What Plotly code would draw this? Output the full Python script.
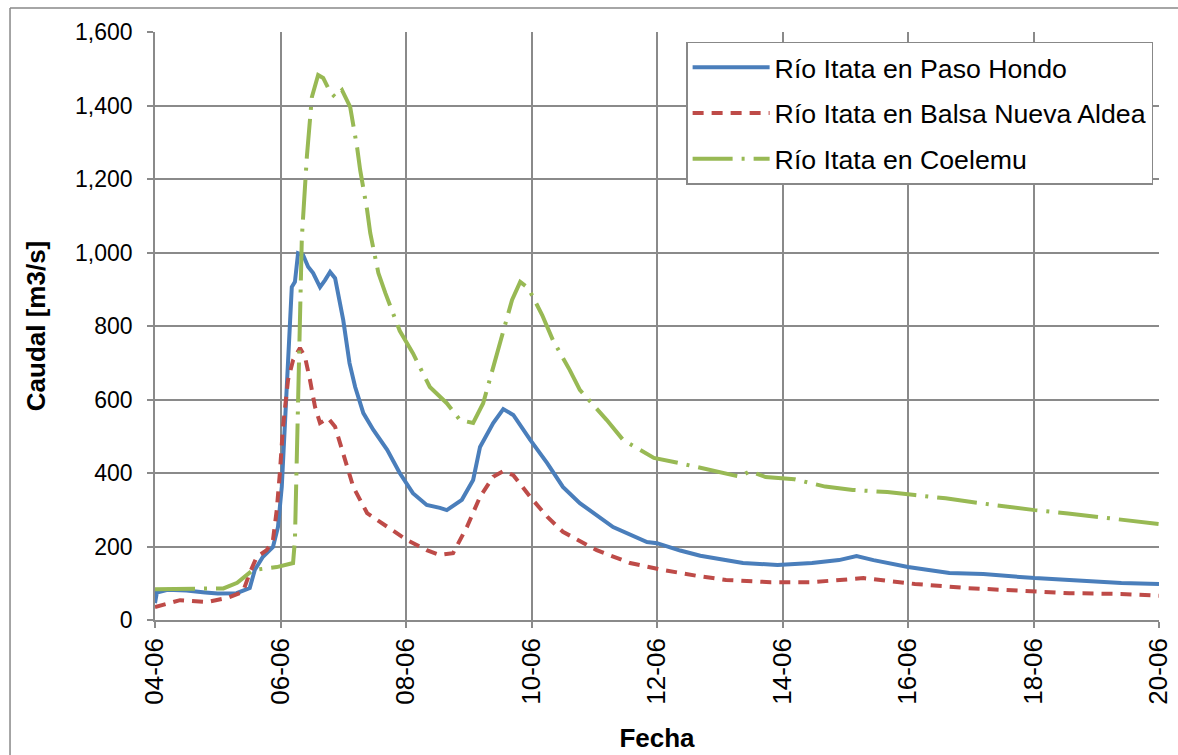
import pandas as pd
import plotly.graph_objects as go

# ---- data (June day numbers, fractional = time of day) ----
paso_hondo_day = [4.00, 4.03, 4.2, 4.5, 4.8, 5.0, 5.3, 5.51, 5.59, 5.72, 5.88, 5.96, 6.02, 6.07, 6.12,
                  6.18, 6.23, 6.28, 6.36, 6.44, 6.52, 6.63, 6.71, 6.79, 6.87, 6.92, 7.0, 7.1, 7.19,
                  7.32, 7.48, 7.7, 7.9, 8.11, 8.33, 8.54, 8.65, 8.89, 9.07, 9.18, 9.39, 9.55, 9.71,
                  9.98, 10.25, 10.5, 10.77, 11.3, 11.84, 12.0, 12.37, 12.69, 13.37, 13.92, 14.47,
                  14.9, 15.18, 15.45, 16.0, 16.66, 17.2, 18.02, 18.85, 19.4, 20.0]
paso_hondo_q = [46, 75, 82, 80, 75, 72, 73, 87, 136, 172, 199, 253, 362, 544, 726,
                906, 920, 998, 993, 961, 944, 906, 925, 947, 930, 890, 816, 699, 634,
                563, 517, 463, 400, 345, 313, 305, 299, 327, 381, 471, 536, 574, 558,
                490, 427, 362, 318, 253, 212, 209, 189, 175, 155, 150, 155,
                163, 174, 163, 144, 128, 125, 114, 106, 101, 98]

balsa_day = [4.00, 4.4, 4.83, 5.15, 5.4, 5.51, 5.62, 5.78, 5.88, 5.94, 5.99, 6.04, 6.12, 6.2, 6.31,
             6.39, 6.47, 6.55, 6.63, 6.76, 6.87, 7.0, 7.16, 7.38, 7.7, 8.01, 8.33, 8.54, 8.75,
             8.97, 9.18, 9.39, 9.55, 9.71, 9.98, 10.25, 10.5, 11.04, 11.57, 12.1, 12.64, 13.1,
             13.81, 14.47, 15.29, 16.11, 16.93, 17.75, 18.57, 19.39, 20.0]
balsa_q = [35, 54, 49, 60, 76, 128, 171, 190, 218, 299, 400, 526, 653, 707, 740,
           716, 653, 580, 536, 549, 526, 454, 362, 291, 253, 218, 190, 177, 182,
           253, 335, 390, 405, 394, 335, 281, 240, 190, 155, 136, 120, 109,
           103, 103, 114, 98, 87, 79, 73, 71, 66]

coelemu_day = [4.00, 4.5, 5.09, 5.31, 5.56, 5.94, 6.2, 6.23, 6.26, 6.28, 6.31, 6.34, 6.42, 6.5,
               6.6, 6.68, 6.79, 6.87, 6.98, 7.11, 7.22, 7.27, 7.38, 7.43, 7.56, 7.67, 7.9, 8.11,
               8.38, 8.65, 8.86, 9.07, 9.23, 9.39, 9.5, 9.61, 9.69, 9.82, 9.95, 10.17, 10.34,
               10.61, 10.77, 11.2, 11.46, 11.73, 11.95, 12.33, 12.82, 13.32, 13.48, 13.73, 14.19,
               14.68, 15.12, 15.67, 16.11, 16.6, 17.1, 17.56, 18.02, 18.55, 19.01, 19.5, 20.0]
coelemu_q = [84, 84, 86, 101, 136, 144, 155, 218, 454, 680, 906, 1040, 1260, 1423,
             1483, 1475, 1437, 1423, 1442, 1396, 1287, 1224, 1116, 1053, 944, 890, 787, 726,
             634, 590, 544, 536, 590, 689, 762, 825, 871, 920, 903, 830, 762,
             680, 626, 544, 490, 463, 441, 428, 408, 390, 405, 389, 383,
             363, 354, 348, 340, 331, 319, 308, 299, 290, 281, 272, 261]

series_names = ["Río Itata en Paso Hondo", "Río Itata en Balsa Nueva Aldea", "Río Itata en Coelemu"]
y_ticks = [0, 200, 400, 600, 800, 1000, 1200, 1400, 1600]


def to_dates(days):
    base = pd.Timestamp("2011-06-01")
    return [base + pd.to_timedelta(d - 1, unit="D") for d in days]


FONT = "Arial, 'Liberation Sans', sans-serif"
GRID = "#8a8a8a"

fig = go.Figure()
fig.add_trace(go.Scatter(x=to_dates(paso_hondo_day), y=paso_hondo_q, mode="lines",
                         name=series_names[0], legendgroup="a",
                         line=dict(color="#4A7EBB", width=4)))
fig.add_trace(go.Scatter(x=to_dates(balsa_day), y=balsa_q, mode="lines",
                         name=series_names[1], legendgroup="b",
                         line=dict(color="#BE4B48", width=4, dash="11px,8px")))
fig.add_trace(go.Scatter(x=to_dates(coelemu_day), y=coelemu_q, mode="lines",
                         name=series_names[2], legendgroup="c",
                         line=dict(color="#98B954", width=4, dash="40px,9px,3px,9px")))

fig.update_layout(
    width=1178, height=755,
    margin=dict(l=155, r=19, t=32, b=135, autoexpand=False),
    paper_bgcolor="white", plot_bgcolor="white",
    font=dict(family=FONT, size=20, color="black"),
    showlegend=True,
    legend=dict(x=0.529, y=0.983, xanchor="left", yanchor="top",
                bgcolor="white", bordercolor="#888888", borderwidth=1.5,
                font=dict(family=FONT, size=26.7, color="black"),
                tracegroupgap=8, traceorder="grouped", itemwidth=77),
    xaxis=dict(type="date", range=["2011-06-04", "2011-06-20"], automargin=False,
               tick0="2011-06-04", dtick=2 * 86400000, tickformat="%d-%m",
               tickangle=-90, showgrid=True, gridcolor=GRID, gridwidth=1.5,
               showline=True, linecolor=GRID, linewidth=1.5,
               ticks="outside", ticklen=6, tickcolor=GRID, tickwidth=1.5,
               tickfont=dict(family=FONT, size=26, color="black"),
               title=dict(text="<b>Fecha</b>", standoff=25,
                          font=dict(family=FONT, size=26, color="black")),
               zeroline=False),
    yaxis=dict(range=[0, 1600], tickvals=y_ticks, tickformat=",", automargin=False,
               showgrid=True, gridcolor=GRID, gridwidth=1.5,
               showline=True, linecolor=GRID, linewidth=1.5,
               ticks="outside", ticklen=6, tickcolor=GRID, tickwidth=1.5,
               ticklabelstandoff=10,
               tickfont=dict(family=FONT, size=23, color="black"),
               title=dict(text="<b>Caudal [m3/s]</b>", standoff=22,
                          font=dict(family=FONT, size=26, color="black")),
               zeroline=False),
)

# outer chart-area border (left and top edges visible)
fig.add_shape(type="line", xref="paper", yref="paper",
              x0=-0.1444, x1=-0.1444, y0=-0.3, y1=1.0408,
              line=dict(color="#888888", width=1.5))
fig.add_shape(type="line", xref="paper", yref="paper",
              x0=-0.1444, x1=1.05, y0=1.0408, y1=1.0408,
              line=dict(color="#888888", width=1.5))

fig.write_html("out.html")
